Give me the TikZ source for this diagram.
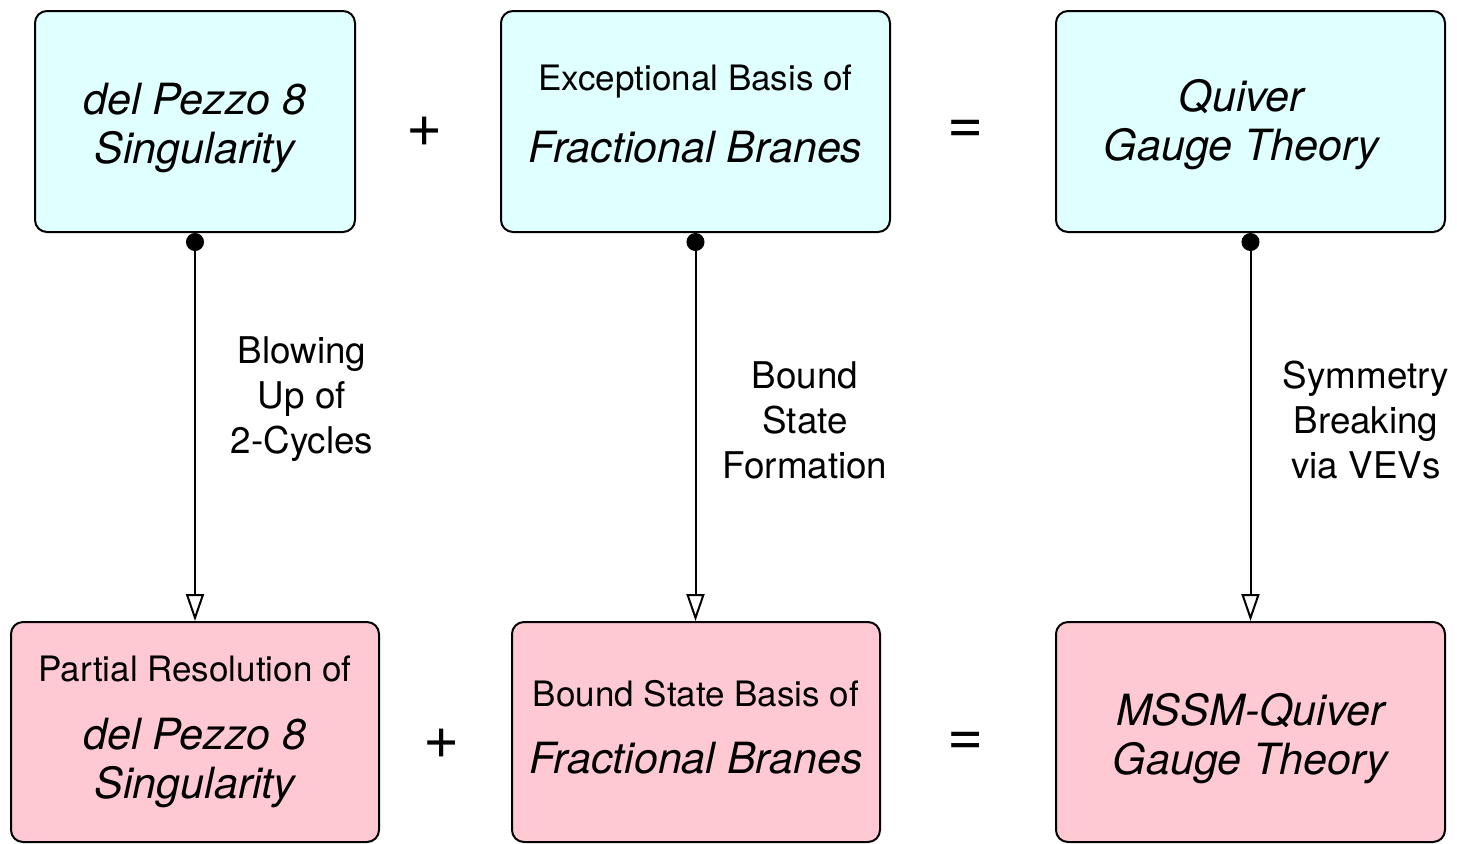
\documentclass[tikz,border=0pt]{standalone}
\usepackage{fontspec}
\setmainfont{TeX Gyre Heros}
\usepackage{tikz}
\usetikzlibrary{positioning, calc, arrows.meta}
\definecolor{pastelcyan}{rgb}{0.88, 1, 1}
\definecolor{pastelpink}{rgb}{1, 0.79, 0.83}
\newcommand{\bigit}{\fontsize{21.5}{24.5}\selectfont\itshape}
\newcommand{\smallrm}{\fontsize{17.5}{21}\selectfont\upshape}
\newcommand{\labelrm}{\fontsize{18.4}{22.5}\selectfont}

\begin{document}
\begin{tikzpicture}[x=0.5pt, y=-0.5pt]
		%%	boxes, one style per row
		\tikzstyle{boxr}=[draw=black, line width=1pt, rounded corners=6pt, minimum height=110.5pt]
		\tikzstyle{topr}=[boxr, fill=pastelcyan]
		\tikzstyle{botr}=[boxr, fill=pastelpink, minimum height=110pt]
		\tikzstyle{boxtext}=[align=center, text=black, font=\bigit]
		\tikzstyle{link}=[line width=1pt, {Circle[length=9pt]}-{Triangle[open, length=13.5pt, width=9pt, line width=1pt]}]
		\tikzstyle{linklabel}=[align=center, font=\labelrm, text=black]
		\tikzstyle{sign}=[font=\fontsize{31}{31}\selectfont, text=black]
		
		\useasboundingbox (0,0) rectangle (1457,843);
		
		%%	top row
		\node [topr, minimum width=160pt] (T1) at (195,121.5) {};
		\node [boxtext, yshift=-3.5pt] (T1t) at (T1) {del Pezzo 8\\Singularity};
		\node [sign] (P1) at (425,132) {+};
		\node [topr, minimum width=194.5pt] (T2) at (695.5,121.5) {};
		\node [boxtext, yshift=3.5pt] (T2t) at (T2) {{\smallrm Exceptional Basis of}\\[11.5pt]Fractional Branes};
		\node [sign] (E1) at (966,132) {=};
		\node [topr, minimum width=194.5pt] (T3) at (1250.5,121.5) {};
		\node [boxtext, xshift=-4.5pt, yshift=-1.5pt] (T3t) at (T3) {Quiver\\Gauge Theory};
		
		%%	bottom row
		\node [botr, minimum width=184pt] (B1) at (195,732) {};
		\node [boxtext] (B1t) at (B1) {{\smallrm Partial Resolution of}\\[9.5pt]del Pezzo 8\\Singularity};
		\node [sign] (P2) at (442,744) {+};
		\node [botr, minimum width=184pt] (B2) at (696,732) {};
		\node [boxtext, yshift=2.5pt] (B2t) at (B2) {{\smallrm Bound State Basis of}\\[9pt]Fractional Branes};
		\node [sign] (E2) at (966,744) {=};
		\node [botr, minimum width=194.5pt] (B3) at (1250.5,732) {};
		\node [boxtext, yshift=-3.5pt] (B3t) at (B3) {MSSM-Quiver\\Gauge Theory};
		
		%%	vertical links
		\draw [link] (T1.south) -- (T1.south |- B1.north);
		\draw [link] (T2.south) -- (T2.south |- B2.north);
		\draw [link] (T3.south) -- (T3.south |- B3.north);
		
		\node [linklabel] (L1) at (302,399) {Blowing\\Up of\\2-Cycles};
		\node [linklabel] (L2) at (805,420) {Bound\\State\\Formation};
		\node [linklabel] (L3) at (1366,420) {Symmetry\\Breaking\\via VEVs};
		
\end{tikzpicture}
\end{document}
